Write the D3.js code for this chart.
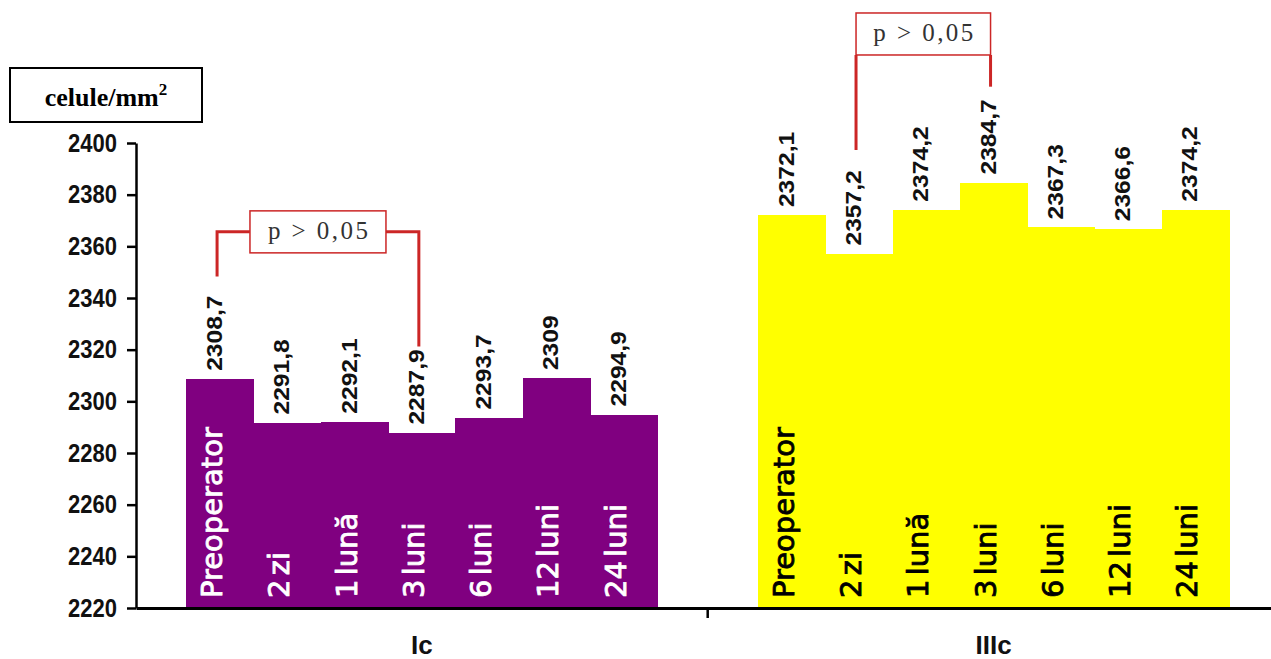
<!DOCTYPE html>
<html>
<head>
<meta charset="utf-8">
<script src="https://cdn.jsdelivr.net/npm/d3@7"></script>
<style>
  body { margin: 0; background: #fff; }
  svg { display: block; }
</style>
</head>
<body>
<svg id="chart" width="1271" height="659"></svg>
<script>
// Endothelial cell density per group and follow-up moment
const groups = ["Ic", "IIIc"];
const periods = ["Preoperator", "2 zi", "1 lună", "3 luni", "6 luni", "12 luni", "24 luni"];
const densityIc = [2308.7, 2291.8, 2292.1, 2287.9, 2293.7, 2309, 2294.9];
const densityIIIc = [2372.1, 2357.2, 2374.2, 2384.7, 2367.3, 2366.6, 2374.2];
const yTickValues = [2220, 2240, 2260, 2280, 2300, 2320, 2340, 2360, 2380, 2400];
const unitLabel = "celule/mm";
const unitExponent = "2";
const comparisons = [
  { group: "Ic", from: 0, to: 3, label: "p > 0,05" },
  { group: "IIIc", from: 1, to: 3, label: "p > 0,05" }
];

const series = { Ic: densityIc, IIIc: densityIIIc };
const barFill = { Ic: "#800080", IIIc: "#ffff00" };
const insideInk = { Ic: "#ffffff", IIIc: "#000000" };

const svg = d3.select("#chart");
svg.append("rect").attr("width", 1271).attr("height", 659).attr("fill", "#fff");

const y = d3.scaleLinear().domain([2220, 2400]).range([608, 143]);
const xGroup = d3.scaleBand().domain(groups).range([136, 1279.4]);
const xPeriod = d3.scaleBand().domain(periods).range([0, xGroup.bandwidth()])
  .paddingInner(0).paddingOuter(0.75);

const fmt = v => String(v).replace(".", ",");
const sansBold = "'Liberation Sans', Arial, sans-serif";
const labelFont = "'DejaVu Sans', Verdana, sans-serif";
const serif = "'Liberation Serif', 'Times New Roman', serif";

// Bars
const groupG = svg.selectAll("g.group").data(groups).join("g")
  .attr("class", "group")
  .attr("transform", g => `translate(${xGroup(g)},0)`);

groupG.each(function (g) {
  const rows = periods.map((p, i) => ({ p, v: series[g][i], g }));
  const sel = d3.select(this);

  sel.selectAll("rect.bar").data(rows).join("rect")
    .attr("class", "bar")
    .attr("x", d => xPeriod(d.p))
    .attr("y", d => y(d.v))
    .attr("width", xPeriod.bandwidth() + 0.6)
    .attr("height", d => y(2220) - y(d.v))
    .attr("fill", barFill[g])
    .attr("shape-rendering", "crispEdges");

  // value above each bar
  sel.selectAll("text.val").data(rows).join("text")
    .attr("class", "val")
    .attr("transform", d => `translate(${xPeriod(d.p) + xPeriod.bandwidth() / 2 + 2},${y(d.v) - 8}) rotate(-90) scale(1.12,1)`)
    .attr("font-family", sansBold)
    .attr("font-weight", "bold")
    .attr("font-size", 22)
    .attr("fill", "#111")
    .text(d => fmt(d.v));

  // period name inside each bar
  sel.selectAll("text.cat").data(rows).join("text")
    .attr("class", "cat")
    .attr("transform", d => `translate(${xPeriod(d.p) + xPeriod.bandwidth() / 2 + 2},598) rotate(-90)`)
    .attr("font-family", labelFont)
    .attr("font-size", 29)
    .attr("word-spacing", -5)
    .attr("fill", insideInk[g])
    .attr("stroke", insideInk[g])
    .attr("stroke-width", 0.8)
    .text(d => d.p);
});

// Y axis
const yAxis = svg.append("g")
  .attr("transform", "translate(136,0)")
  .call(d3.axisLeft(y).tickValues(yTickValues).tickSize(9).tickSizeOuter(0).tickPadding(10).tickFormat(d3.format("d")));
yAxis.select(".domain").attr("stroke", "#000").attr("stroke-width", 2.5);
yAxis.selectAll(".tick line").attr("stroke", "#000").attr("stroke-width", 2.5);
yAxis.selectAll(".tick text")
  .attr("font-family", sansBold)
  .attr("font-weight", "bold")
  .attr("font-size", 22)
  .attr("fill", "#111")
  .attr("transform", "scale(1,1.15)");

// X axis with group names
const xAxis = svg.append("g")
  .attr("transform", "translate(0,608)")
  .call(d3.axisBottom(xGroup).tickSize(0).tickSizeOuter(0).tickPadding(28));
xAxis.select(".domain").attr("stroke", "#000").attr("stroke-width", 3);
xAxis.selectAll(".tick text")
  .attr("font-family", sansBold)
  .attr("font-weight", "bold")
  .attr("font-size", 26)
  .attr("fill", "#111");
xAxis.selectAll("line.sep").data(groups.slice(1)).join("line")
  .attr("class", "sep")
  .attr("x1", g => xGroup(g)).attr("x2", g => xGroup(g))
  .attr("y1", 0).attr("y2", 10)
  .attr("stroke", "#000").attr("stroke-width", 2.5);

// Unit box
svg.append("rect")
  .attr("x", 10).attr("y", 68).attr("width", 192).attr("height", 54)
  .attr("fill", "none").attr("stroke", "#000").attr("stroke-width", 2);
const unit = svg.append("text")
  .attr("x", 106).attr("y", 106)
  .attr("text-anchor", "middle")
  .attr("font-family", serif)
  .attr("font-weight", "bold")
  .attr("font-size", 26)
  .attr("fill", "#000");
unit.append("tspan").text(unitLabel);
unit.append("tspan").attr("dy", -11).attr("font-size", 17).text(unitExponent);

// Significance brackets
const bracketLevels = {
  Ic: { mid: 2365.6, endFrom: 2348.3, endTo: 2321.2 },
  IIIc: { mid: 2442.2, endFrom: 2397.3, endTo: 2421.8 }
};
const red = "#cc2626";
comparisons.forEach(c => {
  const lv = bracketLevels[c.group];
  const cx = i => xGroup(c.group) + xPeriod(periods[i]) + xPeriod.bandwidth() / 2 - 3;
  const xa = cx(c.from), xb = cx(c.to);
  const mid = y(lv.mid);
  const span = xb - xa;
  const boxW = Math.min(136, span), boxH = 42;
  const bl = (xa + xb) / 2 - boxW / 2, br = bl + boxW;
  const paths = boxW < span
    ? [`M${xa},${y(lv.endFrom)}V${mid}H${bl}`, `M${br},${mid}H${xb}V${y(lv.endTo)}`]
    : [`M${xa},${y(lv.endFrom)}V${mid + boxH / 2}`, `M${xb},${mid + boxH / 2}V${y(lv.endTo)}`];
  paths.forEach(d => svg.append("path").attr("d", d)
    .attr("fill", "none").attr("stroke", red).attr("stroke-width", 3));
  svg.append("rect")
    .attr("x", bl).attr("y", mid - boxH / 2).attr("width", boxW).attr("height", boxH)
    .attr("fill", "#fff").attr("stroke", red).attr("stroke-width", 1.5);
  svg.append("text")
    .attr("x", (bl + br) / 2).attr("y", mid + 7)
    .attr("text-anchor", "middle")
    .attr("font-family", serif)
    .attr("font-size", 25)
    .attr("textLength", 100)
    .attr("lengthAdjust", "spacing")
    .attr("fill", "#333")
    .text(c.label);
});
</script>
</body>
</html>
